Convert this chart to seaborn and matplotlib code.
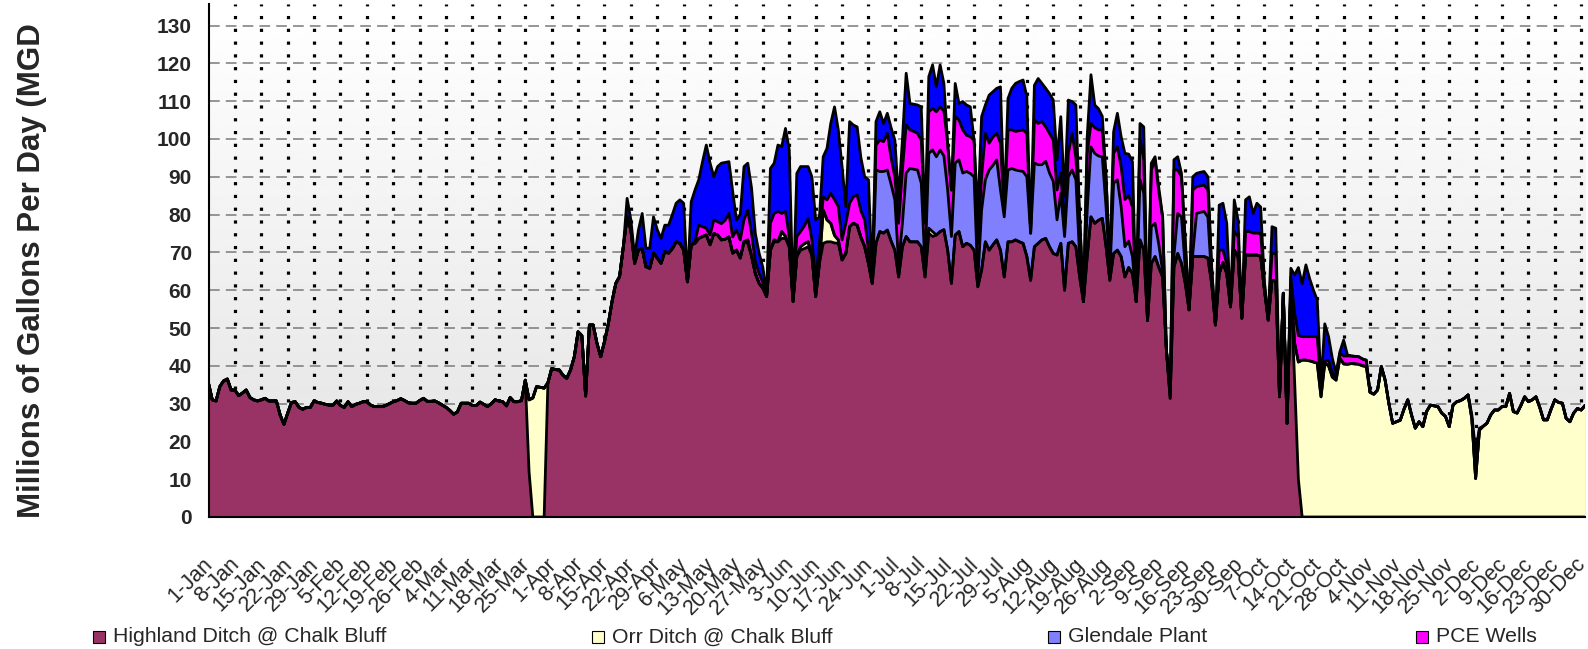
import numpy as np
import pandas as pd
import matplotlib
matplotlib.use('Agg')
import matplotlib.pyplot as plt
import seaborn as sns
from matplotlib.patches import Rectangle
from matplotlib.transforms import ScaledTranslation

# daily flows (MGD), 1-Jan .. 31-Dec (leap year, 366 days)
highland = [
    35.4, 31.0, 30.7, 34.5, 36.0, 36.5, 33.6, 33.6, 32.1, 32.8,
    33.6, 31.6, 31.0, 30.7, 31.0, 31.4, 30.7, 30.7, 30.7, 27.0,
    24.5, 27.5, 30.3, 30.5, 29.0, 28.5, 29.0, 29.0, 30.7, 30.3,
    30.1, 29.8, 29.6, 29.6, 30.7, 29.5, 29.0, 30.5, 29.2, 29.8,
    30.1, 30.5, 30.5, 29.6, 29.2, 29.2, 29.2, 29.5, 30.0, 30.5,
    30.8, 31.3, 30.8, 30.2, 30.1, 30.1, 30.8, 31.4, 30.6, 30.6,
    30.7, 30.2, 29.6, 29.0, 28.2, 27.2, 27.8, 30.1, 30.1, 30.1,
    29.5, 29.5, 30.4, 29.8, 29.2, 30.0, 31.0, 30.7, 30.5, 29.4,
    31.6, 30.5, 30.5, 30.8, 36.2, 12.0, 0.0, 0.0, 0.0, 0.0,
    35.5, 39.3, 39.0, 38.9, 37.5, 36.7, 38.9, 42.4, 49.0, 48.0,
    32.0, 50.8, 50.8, 46.0, 42.4, 46.4, 51.0, 57.0, 61.8, 63.6,
    71.5, 79.4, 75.9, 67.1, 70.6, 71.0, 66.2, 65.8, 69.8, 68.5,
    67.1, 70.2, 69.8, 71.0, 72.8, 72.4, 70.6, 62.2, 72.0, 72.4,
    73.7, 74.2, 74.6, 72.0, 75.0, 74.6, 73.3, 73.5, 74.1, 69.8,
    70.6, 68.5, 72.8, 72.4, 69.0, 64.4, 61.8, 60.5, 58.3, 70.6,
    72.8, 72.8, 73.7, 73.7, 71.5, 57.0, 68.9, 70.6, 71.0, 71.5,
    69.3, 58.3, 67.1, 72.4, 72.8, 72.8, 72.5, 72.4, 68.0, 69.7,
    76.8, 77.7, 77.2, 74.0, 71.5, 67.1, 61.8, 72.4, 75.5, 75.1,
    75.9, 73.0, 70.6, 63.5, 71.5, 74.2, 72.8, 72.8, 72.8, 71.5,
    63.5, 75.1, 74.2, 74.6, 75.5, 76.0, 70.6, 61.8, 74.6, 75.5,
    71.5, 72.4, 71.9, 70.6, 60.9, 65.3, 72.8, 70.6, 72.0, 73.3,
    70.6, 63.5, 72.8, 72.8, 73.3, 72.8, 72.4, 68.9, 62.6, 71.5,
    72.4, 73.3, 73.7, 71.5, 69.7, 69.3, 72.4, 60.0, 72.4, 72.8,
    71.5, 63.5, 57.0, 68.9, 79.4, 77.7, 78.5, 79.0, 71.5, 62.6,
    69.7, 70.6, 68.9, 63.5, 66.0, 64.4, 57.0, 73.3, 70.6, 52.0,
    67.0, 68.9, 66.0, 63.5, 44.2, 31.4, 66.1, 69.7, 67.1, 61.8,
    54.8, 68.9, 68.9, 68.9, 68.9, 68.5, 61.8, 50.8, 64.4, 67.3,
    64.4, 55.6, 70.6, 68.9, 52.6, 69.3, 69.3, 69.3, 69.3, 69.0,
    60.0, 52.1, 62.6, 62.6, 31.8, 59.2, 24.8, 61.0, 36.0, 10.0,
] + [0.0] * 76

orr = ([0.0] * 85 + [19.0, 31.5, 34.5, 34.3, 34.1] + [0.0] * 53
       + [0.9] + [0.0] * 6 + [0.5, 0.0, 1.8, 0.5] + [0.0] * 3
       + [0.9, 1.3, 1.3] + [0.0] * 3 + [8.8, 5.8, 4.9, 2.0, 0.9]
       + [0.0] * 23 + [1.3, 1.3] + [0.0] * 95 + [10.0, 31.0] + [
    41.5, 41.5, 41.3, 41.0, 40.7, 31.8, 40.7, 40.0, 37.0, 36.2,
    42.0, 40.5, 40.4, 40.6, 40.5, 40.4, 40.0, 39.8, 33.0, 32.5,
    33.6, 39.8, 36.2, 30.0, 24.8, 25.2, 25.6, 28.5, 31.0, 27.0,
    23.5, 25.2, 23.9, 27.9, 29.6, 29.4, 29.2, 27.5, 26.6, 23.9,
    29.6, 30.5, 30.8, 31.4, 32.3, 26.0, 10.2, 23.0, 24.0, 24.8,
    27.0, 28.3, 28.3, 29.2, 29.2, 32.7, 27.9, 27.5, 29.5, 31.8,
    30.5, 31.0, 31.8, 29.0, 25.7, 25.7, 28.5, 31.0, 30.3, 30.1,
    26.1, 25.2, 27.5, 28.7, 28.3, 29.5,
])

glendale = [0.0] * 177 + [
    19.4, 15.9, 16.3,
    15.9, 15.0, 13.3, 3.5, 6.2, 16.8, 19.4, 19.2, 19.0, 16.8,
    2.6, 19.8, 21.6, 20.7, 21.6, 19.5, 15.9, 12.4, 19.0, 19.0,
    19.5, 19.0, 19.0, 19.4, 1.7, 15.9, 16.4, 21.2, 21.0, 21.2,
    15.9, 15.9, 19.0, 19.4, 18.5, 18.8, 19.0, 21.1, 12.5, 22.1,
    20.8, 19.9, 20.4, 19.5, 19.1, 9.3, 13.2, 14.2, 17.6, 19.0,
    17.7, 5.4, 0.0, 12.3, 18.5, 18.5, 17.0, 16.3, 10.5, 1.4,
    18.6, 18.6, 13.2, 8.0, 7.0, 4.5, 0.0, 15.9, 15.0, 0.0,
    9.8, 8.8, 6.0, 1.5, 0.0, 1.6, 2.9, 10.6, 12.3, 4.2,
    0.0, 0.8, 11.4, 11.7, 11.9, 10.9, 1.2,
] + [0.0] * 99

pce_wells = [0.0] * 129 + [
    0.4, 3.5, 2.6, 1.8, 2.6, 3.6, 3.5, 4.3, 5.0, 6.2, 4.3,
    5.3, 4.8, 5.8, 7.9, 6.0, 3.1, 2.6, 1.5, 0.3, 7.1,
    7.0, 8.0, 4.8, 6.6, 2.7, 0.3, 5.3, 4.0, 4.7, 6.2,
    4.0, 4.3, 5.3, 3.5, 5.3, 7.9, 9.5, 8.8, 5.3, 8.0,
    6.2, 7.0, 8.0, 7.0, 7.1, 3.5, 0.7, 6.6, 8.3, 7.9,
    9.7, 7.0, 6.1, 10.7, 14.1, 12.7, 10.2, 10.0, 9.7, 11.4,
    11.6, 11.0, 11.0, 11.9, 11.4, 11.9, 12.3, 12.3, 12.3, 10.5,
    11.4, 9.6, 9.7, 9.7, 9.6, 8.8, 12.3, 7.1, 7.5, 7.0,
    12.4, 1.8, 10.6, 10.2, 10.2, 10.6, 11.0, 11.5, 0.0, 11.4,
    10.9, 11.4, 9.1, 10.5, 10.9, 7.9, 5.4, 1.7, 6.2, 9.7,
    5.8, 10.5, 0.0, 15.0, 6.2, 6.8, 6.9, 7.1, 8.0, 2.0,
    7.9, 8.7, 10.6, 12.5, 12.0, 13.1, 0.0, 10.8, 8.9, 0.0,
    15.0, 16.8, 14.0, 14.4, 0.0, 0.0, 22.8, 11.5, 10.6, 7.0,
    0.0, 16.8, 7.1, 7.0, 7.0, 7.1, 3.0, 0.0, 6.2, 3.3,
    2.6, 0.0, 4.9, 5.3, 0.0, 6.2, 6.2, 5.8, 5.8, 6.0,
    1.8, 0.0, 7.1, 7.1, 0.0, 0.0, 0.0, 2.5, 8.0, 7.0,
    6.2, 6.2, 6.4, 6.7, 7.0, 2.7, 0.4, 1.5, 1.0, 0.9,
    1.3, 2.1, 2.2, 2.0, 2.0, 2.0, 1.8, 1.7, 0.0, 0.0,
] + [0.0] * 56

# top (blue) series, its legend entry is cut off in the original
fifth_source = [0.0] * 111 + [
    4.9, 2.7, 1.8, 5.3, 9.3, 4.9, 5.3, 9.6, 7.5,
    6.6, 7.0, 7.4, 9.0, 10.2, 11.5, 12.4, 0.3, 11.4, 13.7,
    12.0, 17.2, 22.0, 19.0, 11.4, 14.6, 16.0, 15.3, 13.7, 12.0,
    2.7, 6.7, 14.1, 12.4, 12.0, 7.5, 5.4, 4.0, 0.3, 14.5,
    13.3, 17.6, 17.7, 22.0, 22.9, 0.3, 16.7, 17.2, 15.7, 13.7,
    16.7, 16.0, 7.0, 10.6, 13.6, 18.5, 24.5, 20.3, 19.4, 4.4,
    21.6, 19.0, 18.0, 14.0, 11.4, 18.6, 0.5, 6.2, 7.5, 4.8,
    5.3, 8.0, 9.7, 6.2, 7.9, 13.7, 7.0, 7.2, 7.5, 8.8,
    0.0, 9.3, 11.5, 6.6, 11.1, 7.3, 0.0, 0.0, 8.8, 4.4,
    7.5, 8.0, 7.9, 0.0, 8.1, 15.9, 7.5, 12.7, 12.0, 11.9,
    14.9, 0.0, 8.3, 11.0, 12.7, 13.0, 13.2, 9.7, 0.0, 9.2,
    11.9, 10.1, 10.2, 10.5, 10.6, 8.0, 14.9, 8.8, 14.1, 8.4,
    14.0, 0.0, 0.0, 4.4, 12.9, 6.0, 5.6, 3.6, 0.0, 0.0,
    5.7, 8.9, 7.9, 12.2, 11.0, 12.0, 0.0, 4.1, 8.7, 0.0,
    1.8, 0.8, 1.0, 0.0, 0.0, 0.0, 2.7, 3.5, 0.9, 0.0,
    0.0, 3.5, 3.5, 3.6, 3.6, 3.5, 0.0, 0.0, 11.9, 12.4,
    10.7, 0.0, 8.4, 4.4, 0.0, 8.4, 9.2, 5.2, 7.9, 7.0,
    0.0, 0.0, 7.1, 6.7, 0.0, 0.0, 0.0, 2.3, 10.0, 18.0,
    14.0, 19.0, 15.3, 12.3, 9.7, 0.5, 10.0, 6.2, 4.0, 0.9,
    0.4, 4.2, 0.3, 0.0, 0.0, 0.0, 0.0, 0.0, 0.0, 0.0,
] + [0.0] * 25 + [1.0, 7.0, 0.5] + [0.0] * 28

week_labels = [
    '1-Jan', '8-Jan', '15-Jan', '22-Jan', '29-Jan', '5-Feb', '12-Feb', '19-Feb',
    '26-Feb', '4-Mar', '11-Mar', '18-Mar', '25-Mar', '1-Apr', '8-Apr', '15-Apr',
    '22-Apr', '29-Apr', '6-May', '13-May', '20-May', '27-May', '3-Jun', '10-Jun',
    '17-Jun', '24-Jun', '1-Jul', '8-Jul', '15-Jul', '22-Jul', '29-Jul', '5-Aug',
    '12-Aug', '19-Aug', '26-Aug', '2-Sep', '9-Sep', '16-Sep', '23-Sep', '30-Sep',
    '7-Oct', '14-Oct', '21-Oct', '28-Oct', '4-Nov', '11-Nov', '18-Nov', '25-Nov',
    '2-Dec', '9-Dec', '16-Dec', '23-Dec', '30-Dec',
]
legend_names = ['Highland Ditch @ Chalk Bluff', 'Orr Ditch @ Chalk Bluff',
                'Glendale Plant', 'PCE Wells']

sns.set_theme(style='white')
plt.rcParams['font.family'] = ['Liberation Sans', 'DejaVu Sans']

layers = [highland, orr, glendale, pce_wells, fifth_source]
colors = ['#993366', '#FFFFCC', '#8080FF', '#FF00FF', '#0000FF']
days = np.arange(len(highland))
tops = np.cumsum(np.array(layers), axis=0)

W, H = 1588, 649
fig = plt.figure(figsize=(W / 100, H / 100), dpi=100)
ax = fig.add_axes([208.5 / W, 1 - 517 / H, (1585 - 208.5) / W, (517 - 4) / H])
ymax = (517 - 4) / 3.78

# plot area gradient (white top -> grey bottom)
grad = np.linspace(0.885, 1.0, 256).reshape(-1, 1)
ax.imshow(grad, extent=[0, 365, 0, ymax], origin='lower', cmap='gray',
          vmin=0, vmax=1, aspect='auto', zorder=0)

tick_days = np.arange(0, 365, 7)
for x in tick_days[1:]:
    ax.axvline(x, color='black', lw=2.3, ls=(0, (1, 3)), zorder=0.5)
for y in range(10, 131, 10):
    ax.axhline(y, color='#7a7a7a', lw=1.1, ls=(0, (7, 4)), zorder=0.5)

bottom = np.zeros(len(days))
for i, col in enumerate(colors):
    ax.fill_between(days, bottom, tops[i], color=col, lw=0, zorder=1)
    bottom = tops[i]

outline = pd.DataFrame({
    'day': np.tile(days, len(layers)),
    'top': tops.ravel(),
    'layer': np.repeat(np.arange(len(layers)), len(days)),
})
sns.lineplot(data=outline, x='day', y='top', units='layer', estimator=None,
             color='black', lw=2.0, ax=ax, legend=False, zorder=2)

ax.set_xlim(0, 365)
ax.set_ylim(0, ymax)
ax.set_xlabel('')
ax.set_ylabel('')
ax.set_axisbelow(False)

ax.set_yticks(range(0, 131, 10))
ax.set_yticklabels([str(v) for v in range(0, 131, 10)], fontweight='bold', fontsize=15)
ax.tick_params(axis='y', length=0, pad=12)

ax.set_xticks(tick_days)
ax.set_xticklabels(week_labels, rotation=45, ha='right', rotation_mode='anchor', fontsize=15.5)
ax.tick_params(axis='x', direction='inout', length=11, width=1, color='#333333', pad=21)
shift = ScaledTranslation(-0.06, 0, fig.dpi_scale_trans)
for lab in ax.get_xticklabels():
    lab.set_transform(lab.get_transform() + shift)

for side in ['top', 'right']:
    ax.spines[side].set_visible(False)
for side in ['left', 'bottom']:
    ax.spines[side].set_color('black')
    ax.spines[side].set_linewidth(1.5)

fig.text(32 / W, 1 - 518 / H, 'Millions of Gallons Per Day (MGD', rotation=90,
         ha='center', va='bottom', fontsize=22.5, fontweight='bold')

# legend along the bottom (last entry cut off in the original)
legend_x = [93, 592, 1048, 1416]
for x, name, col in zip(legend_x, legend_names, colors):
    fig.add_artist(Rectangle((x / W, 1 - 643 / H), 12 / W, 12 / H,
                             transform=fig.transFigure, facecolor=col,
                             edgecolor='black', lw=0.8))
    fig.text((x + 20) / W, 1 - 637 / H, name, ha='left', va='center', fontsize=15.3)

fig.savefig('out.png', dpi=100)
